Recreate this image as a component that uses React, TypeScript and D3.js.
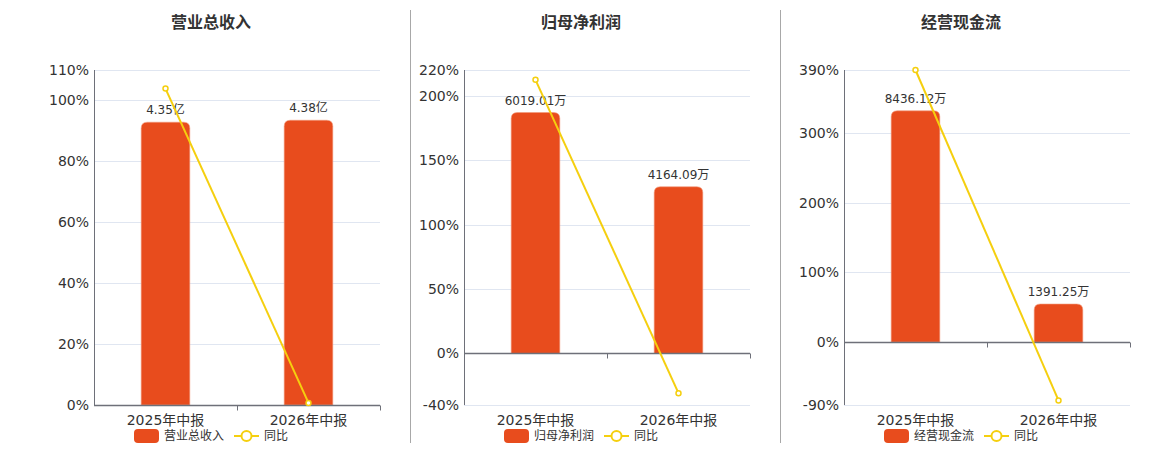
import React, { useEffect, useRef } from 'react';
import * as d3 from 'd3';

const categories = ['2025年中报', '2026年中报'];
const titles = ['营业总收入', '归母净利润', '经营现金流'];
const yoyName = '同比';

const revenueValues = [4.35, 4.38];
const revenueYoy = [103.9, 0.69];
const revenueTicks = [0, 20, 40, 60, 80, 100, 110];

const profitValues = [6019.01, 4164.09];
const profitYoy = [212.4, -30.82];
const profitTicks = [-40, 0, 50, 100, 150, 200, 220];

const cashValues = [8436.12, 1391.25];
const cashYoy = [390, -83.51];
const cashTicks = [-90, 0, 100, 200, 300, 390];

const units = ['亿', '万', '万'];

const BAR_COLOR = '#e84c1d';
const LINE_COLOR = '#f5cf0f';
const AXIS_COLOR = '#6e7079';
const GRID_COLOR = '#e0e6f1';
const FONT = '"DejaVu Sans", "Noto Sans CJK SC", sans-serif';

interface PanelSpec {
  title: string;
  values: number[];
  yoy: number[];
  ticks: number[];
  unit: string;
  axisX: number;
}

const panels: PanelSpec[] = [
  { title: titles[0], values: revenueValues, yoy: revenueYoy, ticks: revenueTicks, unit: units[0], axisX: 94 },
  { title: titles[1], values: profitValues, yoy: profitYoy, ticks: profitTicks, unit: units[1], axisX: 464 },
  { title: titles[2], values: cashValues, yoy: cashYoy, ticks: cashTicks, unit: units[2], axisX: 844 },
];

const dividers = [410, 780];

const roundedTop = (x: number, y: number, w: number, h: number, r: number) => {
  const rr = Math.min(r, h, w / 2);
  return `M${x},${y + h}V${y + rr}Q${x},${y} ${x + rr},${y}H${x + w - rr}Q${x + w},${y} ${x + w},${y + rr}V${y + h}Z`;
};

const App: React.FC = () => {
  const svgRef = useRef<SVGSVGElement>(null);

  useEffect(() => {
    if (!svgRef.current) return;
    const width = 1160;
    const height = 450;
    const top = 70;
    const bottom = 405;
    const plotW = 286;

    const svg = d3.select(svgRef.current);
    svg.selectAll('*').remove();
    svg.attr('width', width).attr('height', height);

    // dividers between panels
    dividers.forEach((dx) => {
      svg.append('line')
        .attr('x1', dx + 0.5).attr('x2', dx + 0.5)
        .attr('y1', 10).attr('y2', 443)
        .attr('stroke', '#a8a8a8').attr('stroke-width', 1);
    });

    panels.forEach((p) => {
      const g = svg.append('g');
      const x0 = p.axisX;
      const tmin = d3.min(p.ticks) as number;
      const tmax = d3.max(p.ticks) as number;

      const y = d3.scaleLinear().domain([tmin, tmax]).range([bottom, top]);
      const x = d3.scaleBand<string>().domain(categories).range([x0, x0 + plotW]);
      const barMax = d3.max(p.values) as number;
      const yBar = d3.scaleLinear().domain([0, barMax / 0.85]).range([y(0), top]);
      const center = x0 + 117;

      // title
      g.append('text')
        .attr('x', center).attr('y', 22)
        .attr('text-anchor', 'middle').attr('dy', '0.35em')
        .attr('font-family', FONT).attr('font-size', 16).attr('font-weight', 'bold')
        .attr('fill', '#333')
        .text(p.title);

      // grid lines
      g.selectAll('.grid')
        .data(p.ticks.filter((t) => t !== 0))
        .enter().append('line')
        .attr('x1', x0).attr('x2', x0 + plotW)
        .attr('y1', (d) => Math.round(y(d)) + 0.5).attr('y2', (d) => Math.round(y(d)) + 0.5)
        .attr('stroke', GRID_COLOR).attr('stroke-width', 1);

      // y tick labels
      g.selectAll('.ylab')
        .data(p.ticks)
        .enter().append('text')
        .attr('x', x0 - 5).attr('y', (d) => y(d))
        .attr('dy', '0.35em').attr('text-anchor', 'end')
        .attr('font-family', FONT).attr('font-size', 14).attr('fill', '#333')
        .text((d) => `${d}%`);

      // y axis line
      g.append('line')
        .attr('x1', x0 + 0.5).attr('x2', x0 + 0.5)
        .attr('y1', top).attr('y2', bottom)
        .attr('stroke', AXIS_COLOR).attr('stroke-width', 1);

      // bars
      g.selectAll('.bar')
        .data(p.values)
        .enter().append('path')
        .attr('d', (d, i) => {
          const bw = x.bandwidth() * 0.34;
          const bx = (x(categories[i]) as number) + (x.bandwidth() - bw) / 2;
          return roundedTop(bx, yBar(d), bw, yBar(0) - yBar(d), 6);
        })
        .attr('fill', BAR_COLOR)
        .attr('stroke', '#f29a7c').attr('stroke-width', 0.6);

      // x axis line at zero
      const y0 = Math.round(y(0)) + 0.5;
      g.append('line')
        .attr('x1', x0).attr('x2', x0 + plotW)
        .attr('y1', y0).attr('y2', y0)
        .attr('stroke', AXIS_COLOR).attr('stroke-width', 1.5);
      g.selectAll('.xtick')
        .data([x0 + x.bandwidth(), x0 + plotW])
        .enter().append('line')
        .attr('x1', (d) => Math.round(d) + 0.5).attr('x2', (d) => Math.round(d) + 0.5)
        .attr('y1', y0).attr('y2', y0 + 5)
        .attr('stroke', AXIS_COLOR).attr('stroke-width', 1);

      // category labels
      g.selectAll('.xlab')
        .data(categories)
        .enter().append('text')
        .attr('x', (d) => (x(d) as number) + x.bandwidth() / 2)
        .attr('y', 420).attr('dy', '0.35em').attr('text-anchor', 'middle')
        .attr('font-family', FONT).attr('font-size', 14).attr('fill', '#333')
        .text((d) => d);

      // bar value labels
      g.selectAll('.blab')
        .data(p.values)
        .enter().append('text')
        .attr('x', (_d, i) => (x(categories[i]) as number) + x.bandwidth() / 2)
        .attr('y', (d) => yBar(d) - 8)
        .attr('text-anchor', 'middle')
        .attr('font-family', FONT).attr('font-size', 12).attr('fill', '#333')
        .text((d) => `${d.toFixed(2)}${p.unit}`);

      // yoy line
      const line = d3.line<number>()
        .x((_d, i) => (x(categories[i]) as number) + x.bandwidth() / 2)
        .y((d) => y(d));
      g.append('path')
        .datum(p.yoy)
        .attr('d', line)
        .attr('fill', 'none')
        .attr('stroke', LINE_COLOR).attr('stroke-width', 2);
      g.selectAll('.pt')
        .data(p.yoy)
        .enter().append('circle')
        .attr('cx', (_d, i) => (x(categories[i]) as number) + x.bandwidth() / 2)
        .attr('cy', (d) => y(d))
        .attr('r', 2.5)
        .attr('fill', '#fff')
        .attr('stroke', LINE_COLOR).attr('stroke-width', 1.5);

      // legend
      const ly = 436;
      const lx = center - 77;
      g.append('rect')
        .attr('x', lx).attr('y', ly - 7).attr('width', 25).attr('height', 14)
        .attr('rx', 4).attr('fill', BAR_COLOR);
      g.append('text')
        .attr('x', lx + 30).attr('y', ly).attr('dy', '0.35em')
        .attr('font-family', FONT).attr('font-size', 12).attr('fill', '#333')
        .text(p.title);
      const l2 = lx + 100;
      g.append('line')
        .attr('x1', l2).attr('x2', l2 + 25).attr('y1', ly).attr('y2', ly)
        .attr('stroke', LINE_COLOR).attr('stroke-width', 2);
      g.append('circle')
        .attr('cx', l2 + 12.5).attr('cy', ly).attr('r', 5)
        .attr('fill', '#fff').attr('stroke', LINE_COLOR).attr('stroke-width', 2);
      g.append('text')
        .attr('x', l2 + 30).attr('y', ly).attr('dy', '0.35em')
        .attr('font-family', FONT).attr('font-size', 12).attr('fill', '#333')
        .text(yoyName);
    });
  }, []);

  return (
    <svg
      ref={svgRef}
      style={{ position: 'absolute', left: 0, top: 0, display: 'block' }}
    />
  );
};

export default App;
